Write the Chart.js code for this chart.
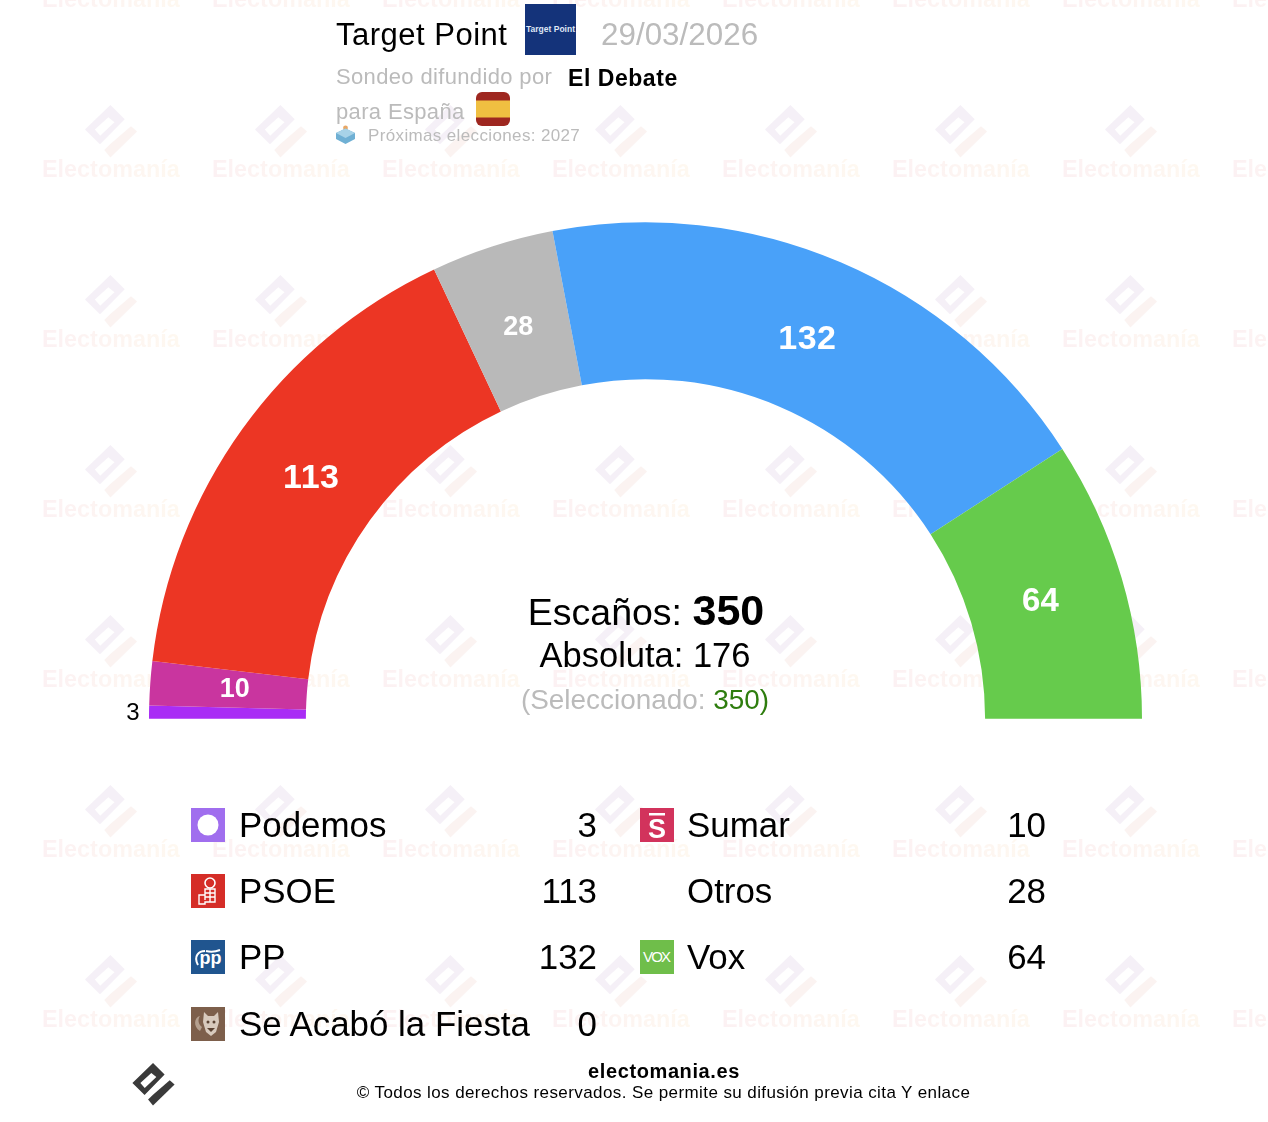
<!DOCTYPE html>
<html lang="es">
<head>
<meta charset="utf-8">
<title>Target Point 29/03/2026</title>
<script src="https://cdn.jsdelivr.net/npm/chart.js@4"></script>
<style>
  html, body { margin: 0; padding: 0; background: #fff; }
  body { width: 1268px; height: 1122px; position: relative; overflow: hidden; font-family: "Liberation Sans", Arial, sans-serif; color: #000; }
  #marks { position: absolute; left: 0; top: 0; width: 1268px; height: 1122px; overflow: hidden; z-index: 0; }
  #seats { position: absolute; left: 0; top: 0; z-index: 1; }
  .t { position: absolute; white-space: nowrap; line-height: 1; z-index: 2; transform: translateY(-50%); }
  .grey { color: #bbb; }
  .c { transform: translate(-50%, -50%); }
  .r { transform: translate(-100%, -50%); }
  .row { line-height: 36px; font-size: 34.9px; }
  .wm { position: absolute; font-weight: bold; font-size: 23.4px; line-height: 1; white-space: nowrap;
        background: linear-gradient(90deg, #fcf1f3, #fef8f0); -webkit-background-clip: text; background-clip: text; color: transparent; }
  .icon { position: absolute; z-index: 2; display: block; }
</style>
</head>
<body>
<svg width="0" height="0" style="position:absolute">
  <defs>
    <symbol id="emLogo" viewBox="0 0 52 53">
      <path fill-rule="evenodd" fill="var(--up)" d="M0 24.6 25.4 0 39.7 14.3 15 39.3ZM9.8 24.6 15.2 30.7 29.5 17.2 23.3 12.3Z"/>
      <path fill="var(--low)" d="M19.3 45 25.4 39 46 21.3 52 26.6 25.4 52.5Z"/>
    </symbol>
  </defs>
</svg>
<div id="marks"></div>
<canvas id="seats" width="1268" height="1122"></canvas>

<div class="t" style="left:336px;top:34px;font-size:31px;letter-spacing:.5px">Target Point</div>
<svg class="icon" style="left:525px;top:4px" width="51" height="51" viewBox="0 0 51 51">
  <rect width="51" height="51" fill="#14337a"/>
  <text x="25.5" y="28" text-anchor="middle" font-size="8.5" font-weight="bold" fill="#dfe6f5" font-family="Liberation Sans">Target Point</text>
</svg>
<div class="t grey" style="left:601px;top:35px;font-size:31.4px">29/03/2026</div>
<div class="t grey" style="left:336px;top:77px;font-size:22px;letter-spacing:.35px">Sondeo difundido por</div>
<div class="t" style="left:568px;top:78px;font-size:23px;font-weight:bold;letter-spacing:.55px">El Debate</div>
<div class="t grey" style="left:336px;top:112px;font-size:22px;letter-spacing:.35px">para España</div>
<svg class="icon" style="left:476px;top:92px" width="34" height="34" viewBox="0 0 34 34">
  <rect width="34" height="34" rx="6" fill="#9e2720"/>
  <rect y="8.5" width="34" height="17" fill="#f0bf41"/>
</svg>
<svg class="icon" style="left:336px;top:125px" width="19" height="19" viewBox="0 0 19 19">
  <circle cx="9.5" cy="3" r="2.4" fill="#e8a765"/>
  <path d="M9.5 3.5 19 8v6l-9.5 5L0 14V8Z" fill="#6fb0d4"/>
  <path d="M0 8l9.5 5 9.5-5-9.5-4.5Z" fill="#a8d3e8"/>
</svg>
<div class="t grey" style="left:368px;top:135px;font-size:17px;letter-spacing:.36px">Próximas elecciones: 2027</div>

<div class="t c" style="left:646px;top:610px;font-size:37.5px">Escaños: <b style="font-size:43px">350</b></div>
<div class="t c" style="left:645px;top:655px;font-size:34.5px">Absoluta: 176</div>
<div class="t c grey" style="left:645px;top:700px;font-size:27.9px">(Seleccionado: <span style="color:#2e7d0e">350)</span></div>

<div id="legend"></div>

<svg class="icon" style="left:132px;top:1063px;--up:#3a3a3a;--low:#3a3a3a" width="43" height="43"><use href="#emLogo"/></svg>
<div class="t c" style="left:664px;top:1071px;font-size:20px;font-weight:bold;letter-spacing:.6px">electomania.es</div>
<div class="t c" style="left:663.5px;top:1092px;font-size:17px;letter-spacing:.41px">© Todos los derechos reservados. Se permite su difusión previa cita Y enlace</div>

<script>
// seats, in the order they run round the arc (left to right)
const parties = ['Podemos', 'Sumar', 'PSOE', 'Otros', 'PP', 'Se Acabó la Fiesta', 'Vox'];
const seats = [3, 10, 113, 28, 132, 0, 64];
const arcColors = ['#a92cf5', '#c9359f', '#ec3624', '#b9b9b9', '#49a1f9', '#7d5f4b', '#66cb4c'];

// legend columns
const legendLeft = ['Podemos', 'PSOE', 'PP', 'Se Acabó la Fiesta'];
const legendRight = ['Sumar', 'Otros', 'Vox'];
const rowY = [825, 891, 957, 1024];

const logos = {
  'Podemos': '<rect width="34" height="34" fill="#a06eee"/><circle cx="17" cy="17" r="10.5" fill="#fff"/>',
  'Sumar': '<rect width="34" height="34" fill="#d2335c"/><rect x="9" y="5" width="16" height="2.5" fill="#fff"/><text x="17" y="30" text-anchor="middle" font-size="27" font-weight="bold" fill="#fff" font-family="Liberation Sans">S</text>',
  'PSOE': '<rect width="34" height="34" fill="#d52d27"/><circle cx="19" cy="9" r="5" fill="none" stroke="#fff" stroke-width="1.6"/><path d="M14 15h10v13H14v2H8v-9h6ZM14 21v5M19 15v13M14 19h10M14 23h10" fill="none" stroke="#fff" stroke-width="1.4"/>',
  'PP': '<rect width="34" height="34" fill="#20558f"/><text x="19.5" y="24" text-anchor="middle" font-size="18" font-weight="bold" fill="#fff" font-family="Liberation Sans">pp</text><path d="M7 25C2 16 8 11 14 11M15 11c4 1 9 1 14-1" fill="none" stroke="#fff" stroke-width="2"/>',
  'Se Acabó la Fiesta': '<rect width="34" height="34" fill="#7d5f4b"/><path d="M9 24C2 20 3 10 9 9 6 13 8 18 11 20Z" fill="#b5a08f"/><path d="M13 5l4 4h6l4-4 1 10-3 10-5 4-5-4-3-10Z" fill="#d8cabd"/><circle cx="17" cy="15" r="1.500" fill="#5b4333"/><circle cx="23" cy="15" r="1.500" fill="#5b4333"/><path d="M16 21h8l-4 4Z" fill="#5b4333"/>',
  'Vox': '<rect width="34" height="34" fill="#6fbe4a"/><text x="17" y="22" text-anchor="middle" font-size="15" fill="#fff" textLength="28" font-family="Liberation Sans">VOX</text>'
};

// faint repeated background marks
const marks = document.getElementById('marks');
for (let row = 0; row < 7; row++) {
  for (let col = 0; col < 8; col++) {
    const x = 42 + col * 170;
    const y = -1 + row * 170;
    marks.insertAdjacentHTML('beforeend',
      `<svg style="position:absolute;left:${x + 43}px;top:${y - 64}px;--up:#f5f0f7;--low:#fbf3f1" width="52" height="53"><use href="#emLogo"/></svg>` +
      `<div class="wm" style="left:${x}px;top:${y - 11}px">Electomanía</div>`);
  }
}

// legend rows
const legend = document.getElementById('legend');
function legendColumn(names, iconX, nameX, valueX) {
  names.forEach((name, i) => {
    const y = rowY[i];
    if (logos[name]) {
      legend.insertAdjacentHTML('beforeend',
        `<svg class="icon" style="left:${iconX}px;top:${y - 17}px" width="34" height="34" viewBox="0 0 34 34">${logos[name]}</svg>`);
    }
    legend.insertAdjacentHTML('beforeend',
      `<div class="t row" style="left:${nameX}px;top:${y}px">${name}</div>` +
      `<div class="t r row" style="left:${valueX}px;top:${y}px">${seats[parties.indexOf(name)]}</div>`);
  });
}
legendColumn(legendLeft, 191, 239, 597);
legendColumn(legendRight, 640, 687, 1046);

// seat counts on the arcs, small parties go outside
const arcLabels = {
  id: 'arcLabels',
  afterDatasetsDraw(chart) {
    const ctx = chart.ctx;
    const arcs = chart.getDatasetMeta(0).data;
    ctx.save();
    ctx.textAlign = 'center';
    ctx.textBaseline = 'middle';
    arcs.forEach((arc, i) => {
      const v = seats[i];
      if (!v) return;
      const mid = (arc.startAngle + arc.endAngle) / 2;
      if (v < 5) {
        const r = arc.outerRadius + 16;
        ctx.fillStyle = '#000';
        ctx.font = '24px "Liberation Sans"';
        ctx.fillText(v, arc.x + Math.cos(mid) * r, arc.y + Math.sin(mid) * r + 2);
        return;
      }
      const r = arc.innerRadius + (arc.outerRadius - arc.innerRadius) * 0.46;
      ctx.fillStyle = '#fff';
      ctx.font = `bold ${v >= 100 ? 34 : v >= 60 ? 33 : 27}px "Liberation Sans"`;
      if (v >= 100) ctx.letterSpacing = '0.5px';
      ctx.fillText(v, arc.x + Math.cos(mid) * r, arc.y + Math.sin(mid) * r);
      ctx.letterSpacing = '0px';
    });
    ctx.restore();
  }
};

new Chart(document.getElementById('seats').getContext('2d'), {
  type: 'doughnut',
  data: {
    labels: parties,
    datasets: [{ data: seats, backgroundColor: arcColors, borderWidth: 0 }]
  },
  options: {
    responsive: false,
    animation: false,
    rotation: -90,
    circumference: 180,
    cutout: '68.4%',
    layout: { padding: { left: 149, right: 126, top: 222, bottom: 403 } },
    plugins: { legend: { display: false }, tooltip: { enabled: false } }
  },
  plugins: [arcLabels]
});
</script>
</body>
</html>
